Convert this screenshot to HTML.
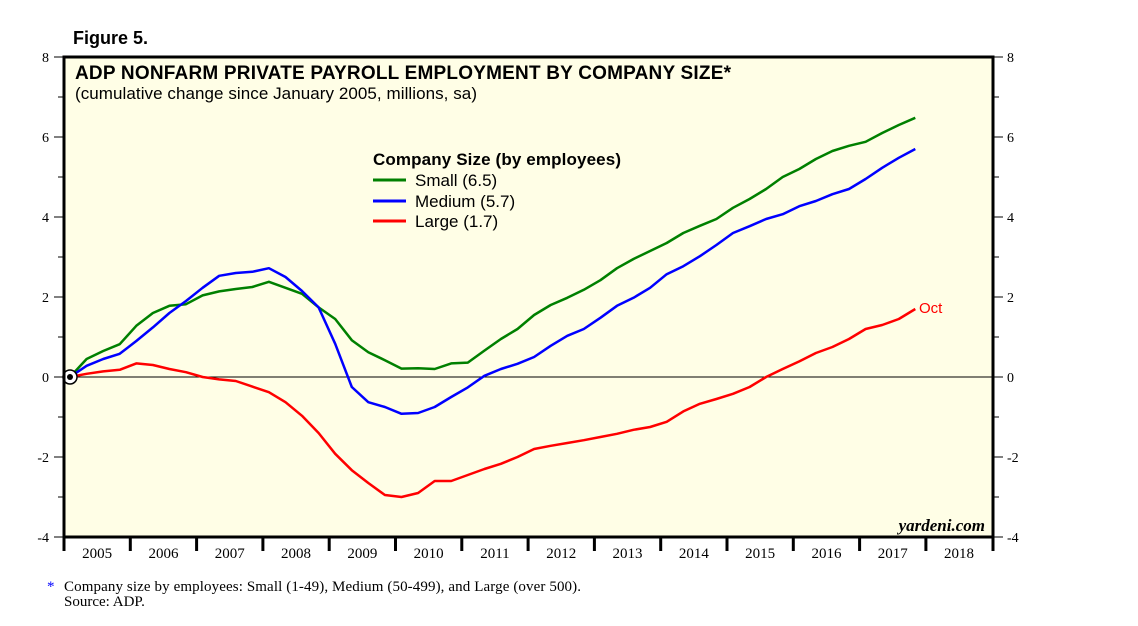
<!DOCTYPE html>
<html><head><meta charset="utf-8"><style>
body{margin:0;background:#fff;width:1138px;height:621px;overflow:hidden}
svg text{font-family:"Liberation Sans",sans-serif}
.ser{font-family:"Liberation Serif",serif}
</style></head><body>
<svg id="c" width="1138" height="621" viewBox="0 0 1138 621">
<text x="73" y="44" font-size="18" font-weight="bold">Figure 5.</text>
<rect x="64" y="57" width="929" height="480" fill="#fffee6" stroke="none"/>
<g id="axes"></g>
<g id="series"></g>
<rect x="64" y="57" width="929" height="480" fill="none" stroke="#000" stroke-width="3"/>
<text x="75" y="79" font-size="19" font-weight="bold" textLength="656">ADP NONFARM PRIVATE PAYROLL EMPLOYMENT BY COMPANY SIZE*</text>
<text x="75" y="99" font-size="17" textLength="402">(cumulative change since January 2005, millions, sa)</text>
<g>
<text x="373" y="165" font-size="17" font-weight="bold" textLength="248">Company Size (by employees)</text>
<line x1="373" y1="180" x2="406" y2="180" stroke="#008000" stroke-width="3"/>
<text x="415" y="186" font-size="17">Small (6.5)</text>
<line x1="373" y1="201" x2="406" y2="201" stroke="#0000ff" stroke-width="3"/>
<text x="415" y="207" font-size="17">Medium (5.7)</text>
<line x1="373" y1="221" x2="406" y2="221" stroke="#ff0000" stroke-width="3"/>
<text x="415" y="227" font-size="17">Large (1.7)</text>
</g>
<text x="919" y="313" font-size="15" fill="#ff0000">Oct</text>
<text x="985" y="531" font-size="17" font-weight="bold" font-style="italic" text-anchor="end" class="ser">yardeni.com</text>
<text x="47" y="591" font-size="15" fill="#0000ff" class="ser">*</text>
<text x="64" y="591" font-size="15" class="ser" textLength="517">Company size by employees: Small (1-49), Medium (50-499), and Large (over 500).</text>
<text x="64" y="606" font-size="15" class="ser">Source: ADP.</text>
</svg>
<script>
const years=["2005","2006","2007","2008","2009","2010","2011","2012","2013","2014","2015","2016","2017","2018"];
const yTicks=[-4,-2,0,2,4,6,8];
const small=[0,0.45,0.65,0.82,1.28,1.6,1.78,1.82,2.04,2.14,2.2,2.25,2.38,2.23,2.08,1.74,1.45,0.92,0.62,0.42,0.21,0.22,0.2,0.34,0.36,0.66,0.95,1.2,1.55,1.8,1.98,2.18,2.42,2.72,2.95,3.15,3.35,3.6,3.78,3.95,4.23,4.45,4.7,5.0,5.2,5.45,5.65,5.78,5.88,6.1,6.3,6.48];
const medium=[0,0.28,0.45,0.58,0.9,1.24,1.6,1.9,2.23,2.53,2.6,2.63,2.72,2.5,2.15,1.74,0.83,-0.25,-0.63,-0.75,-0.92,-0.9,-0.75,-0.5,-0.26,0.03,0.2,0.33,0.5,0.78,1.03,1.2,1.48,1.78,1.98,2.23,2.57,2.77,3.02,3.3,3.6,3.77,3.95,4.07,4.27,4.4,4.57,4.7,4.95,5.23,5.48,5.7];
const large=[0,0.08,0.14,0.18,0.34,0.3,0.2,0.12,0.0,-0.06,-0.1,-0.24,-0.38,-0.63,-0.97,-1.4,-1.92,-2.33,-2.65,-2.95,-3.0,-2.9,-2.6,-2.6,-2.45,-2.3,-2.17,-2.0,-1.8,-1.72,-1.65,-1.58,-1.5,-1.42,-1.32,-1.25,-1.12,-0.86,-0.67,-0.55,-0.42,-0.25,0.0,0.2,0.39,0.6,0.75,0.95,1.2,1.3,1.45,1.7];
const NS="http://www.w3.org/2000/svg";
const X0=64,YW=66.3,Ytop=57,Ybot=537,vmin=-4,vmax=8;
function yS(v){return Ybot-(v-vmin)/(vmax-vmin)*(Ybot-Ytop);}
function xQ(q){return X0+6+q*3*YW/12;}
function mk(tag,attrs,parent){const e=document.createElementNS(NS,tag);for(const k in attrs)e.setAttribute(k,attrs[k]);parent.appendChild(e);return e;}
const ax=document.getElementById('axes');
for(let v=vmin;v<=vmax;v++){
  const y=yS(v),maj=v%2===0;
  mk('line',{x1:maj?54:58,y1:y,x2:64,y2:y,stroke:'#000'},ax);
  mk('line',{x1:993,y1:y,x2:maj?1003:999,y2:y,stroke:'#000'},ax);
}
yTicks.forEach(v=>{
  const y=yS(v);
  const t=mk('text',{x:49,y:y+5,'font-size':14,'text-anchor':'end',class:'ser'},ax);
  t.textContent=v;
  
  
  const t2=mk('text',{x:1007,y:y+5,'font-size':14,class:'ser'},ax);
  t2.textContent=v;
  
  
});
years.forEach((yr,i)=>{
  const x=X0+i*YW;
  mk('line',{x1:x,y1:537,x2:x,y2:551,stroke:'#000','stroke-width':3},ax);
  const t=mk('text',{x:x+YW/2,y:558,'font-size':15,'text-anchor':'middle',class:'ser'},ax);
  t.textContent=yr;
  
  
});
mk('line',{x1:993,y1:537,x2:993,y2:551,stroke:'#000','stroke-width':3},ax);
const zl=mk('line',{x1:64,y1:yS(0),x2:993,y2:yS(0),stroke:'#000','stroke-width':1},ax);


const sg=document.getElementById('series');
[[small,'#008000','series-small'],[medium,'#0000ff','series-medium'],[large,'#ff0000','series-large']].forEach(([d,c,n])=>{
  const p=mk('polyline',{points:d.map((v,q)=>xQ(q).toFixed(1)+','+yS(v).toFixed(1)).join(' '),fill:'none',stroke:c,'stroke-width':2.5,'stroke-linejoin':'round'},sg);
  
  
});
const c1=mk('circle',{cx:xQ(0),cy:yS(0),r:7,fill:'#fff',stroke:'#000','stroke-width':1.5},sg);


mk('circle',{cx:xQ(0),cy:yS(0),r:3,fill:'#000'},sg);
</script>
</body></html>
